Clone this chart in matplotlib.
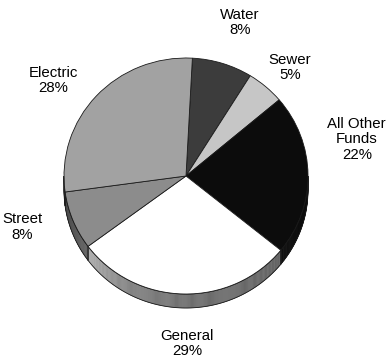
import numpy as np
import matplotlib
matplotlib.use("Agg")
import matplotlib.pyplot as plt
from matplotlib.patches import Polygon

# Fund shares (percent)
funds = ["Water", "Sewer", "All Other\nFunds", "General", "Street", "Electric"]
shares = [8, 5, 22, 29, 8, 28]
face_colors = ["#3c3c3c", "#c6c6c6", "#0c0c0c", "#ffffff", "#8c8c8c", "#a2a2a2"]

# Label anchor points in pie units (x: horizontal radius, y: vertical radius)
label_pos = [(0.44, 1.30), (0.85, 0.92), (1.40, 0.31),
             (0.01, -1.42), (-1.34, -0.43), (-1.09, 0.81)]

W, H, DPI = 389, 362, 100
fig = plt.figure(figsize=(W / DPI, H / DPI), dpi=DPI)
ax = fig.add_axes([0, 0, 1, 1])

wedges, _ = ax.pie(shares, colors=face_colors, startangle=87, counterclock=False,
                   radius=1.0, center=(0, 0),
                   wedgeprops=dict(edgecolor="#1a1a1a", linewidth=0.6))
for w in wedges:
    w.set_zorder(5)

# Pixel geometry of the ellipse: centre and radii
cx, cy, rx, ry = 186, 176, 122, 118
ax.set_aspect("auto")
ax.set_xlim(-cx / rx, (W - cx) / rx)
ax.set_ylim((cy - H) / ry, cy / ry)
ax.axis("off")

depth = 14 / ry


def light(theta):
    # brightness factor for the rim, brightest toward the lower left
    pts = [-180, -165, -145, -120, -90, -40, 0]
    vals = [0.42, 0.55, 0.70, 0.52, 0.43, 0.38, 0.36]
    return np.interp(theta, pts, vals)


def rgb(c):
    return np.array(matplotlib.colors.to_rgb(c))


# 3D rim on the front half of the pie
for w, col in zip(wedges, face_colors):
    t1, t2 = w.theta1, w.theta2
    # bring angles into the (-360, 0] window and clip to the front half
    lo, hi = t1, t2
    while hi > 0:
        lo -= 360
        hi -= 360
    segs = []
    for off in (0, 360):
        a, b = max(lo + off, -180), min(hi + off, 0)
        if b > a:
            segs.append((a, b))
    base = rgb(col)
    for a, b in segs:
        n = max(int((b - a) * 2), 2)
        th = np.linspace(a, b, n + 1)
        for k in range(n):
            tt = np.radians(np.linspace(th[k], th[k + 1], 3))
            top = np.column_stack([np.cos(tt), np.sin(tt)])
            bot = top - [0, depth]
            mid = 0.5 * (th[k] + th[k + 1])
            c = np.clip(base * light(mid) + (0.03 if base.mean() < 0.1 else 0), 0, 1)
            ax.add_patch(Polygon(np.vstack([top, bot[::-1]]), closed=True,
                                 facecolor=c, edgecolor=c, linewidth=0.3, zorder=2))
        tt = np.radians(np.linspace(a, b, 80))
        top = np.column_stack([np.cos(tt), np.sin(tt)])
        bot = top - [0, depth]
        ax.add_patch(Polygon(np.vstack([top, bot[::-1]]), closed=True,
                             facecolor="none", edgecolor="#1a1a1a", linewidth=0.6, zorder=3))

for name, pct, (lx, ly) in zip(funds, shares, label_pos):
    ax.text(lx, ly, f"{name}\n{pct}%", ha="center", va="center",
            fontsize=10.8, family=["Liberation Sans", "DejaVu Sans"],
            color="#000000", linespacing=1.15, zorder=10)

fig.savefig("out.png", dpi=DPI, facecolor="white")
